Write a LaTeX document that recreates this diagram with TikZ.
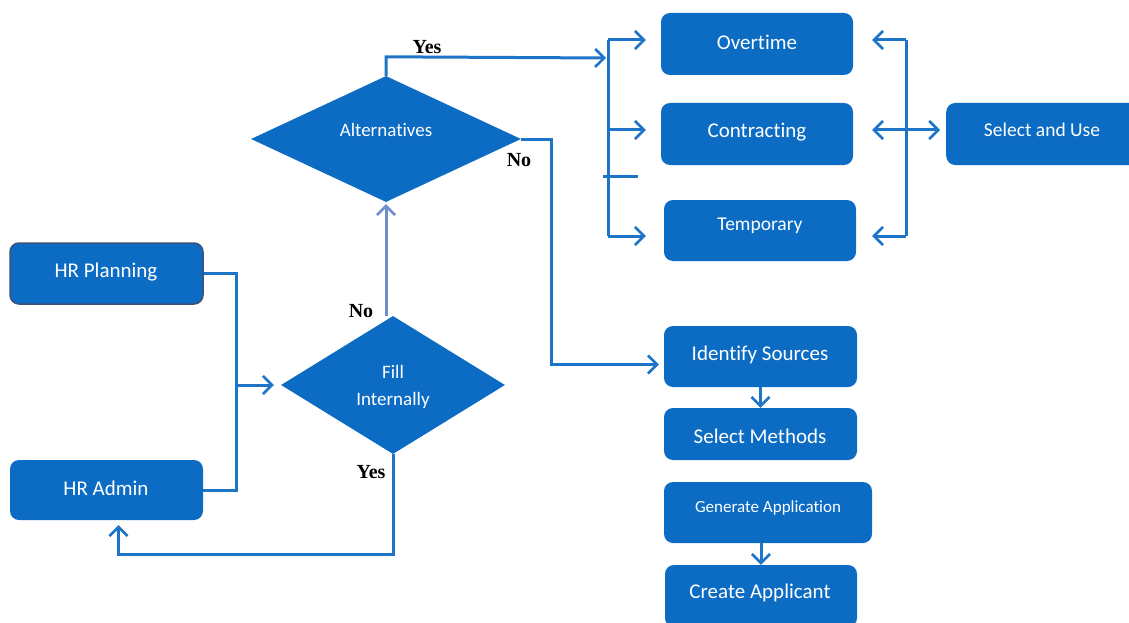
\documentclass[tikz,border=0pt]{standalone}
\usepackage{fontspec}
\setmainfont{Carlito}[Ligatures=NoCommon]
\newfontfamily\lblfont{Liberation Serif}
\usetikzlibrary{arrows.meta,shapes.geometric}
\definecolor{boxblue}{RGB}{12,108,196}
\definecolor{lineblue}{RGB}{30,116,198}
\definecolor{paleline}{RGB}{110,145,205}
\definecolor{edgegray}{RGB}{60,80,120}
\tikzset{
  box/.style={rectangle, rounded corners=9pt, fill=boxblue, inner sep=0pt},
  btext/.style={text=white, font=\fontsize{21}{22}\selectfont},
  dia/.style={diamond, fill=boxblue, inner sep=0pt},
  ditext/.style={text=white, font=\fontsize{19}{27}\selectfont, align=center},
  conn/.style={draw=lineblue, line width=3pt},
  arr/.style={conn, -{Straight Barb[length=9pt,width=18pt,line width=2.6pt]}},
  darr/.style={conn, {Straight Barb[length=9pt,width=18pt,line width=2.6pt]}-{Straight Barb[length=9pt,width=18pt,line width=2.6pt]}},
  yn/.style={font=\lblfont\bfseries\fontsize{20}{20}\selectfont, text=black}
}
\begin{document}
\begin{tikzpicture}[x=1pt,y=-1pt]
\useasboundingbox (0,0) rectangle (1129,623);
% boxes
\node[box, minimum width=192pt, minimum height=62pt] (ot) at (757,44) {};
\node[btext] (ott) at (757,42) {Overtime};
\node[box, minimum width=192pt, minimum height=62pt] (ct) at (757,134) {};
\node[btext] (ctt) at (757,132) {Contracting};
\node[box, minimum width=192pt, minimum height=61pt] (tp) at (760,230.5) {};
\node[btext, font=\fontsize{19.5}{22}\selectfont] (tpt) at (760,226) {Temporary};
\node[box, minimum width=200pt, minimum height=62pt, anchor=west] (su) at (946,134) {};
\node[btext, font=\fontsize{19.5}{22}\selectfont] (sut) at (1042,130) {Select and Use};
\node[box, minimum width=193pt, minimum height=61pt, draw=edgegray, line width=1.5pt] (hrp) at (106.5,273.5) {};
\node[btext] (hrpt) at (106,272) {HR Planning};
\node[box, minimum width=193pt, minimum height=60pt] (hra) at (106.5,490) {};
\node[btext] (hrat) at (106,488) {HR Admin};
\node[box, minimum width=193pt, minimum height=61pt] (ids) at (760.5,356.5) {};
\node[btext] (idst) at (760,355) {Identify Sources};
\node[box, minimum width=193pt, minimum height=52pt] (sm) at (760.5,434) {};
\node[btext] (smt) at (760,436) {Select Methods};
\node[box, minimum width=208pt, minimum height=61pt] (ga) at (768,512.5) {};
\node[btext, font=\fontsize{17}{20}\selectfont] (gat) at (768,508) {Generate Application};
\node[box, minimum width=192pt, minimum height=62pt] (ca) at (761,596) {};
\node[btext] (cat) at (760,593) {Create Applicant};
% diamonds
\node[dia, minimum width=270pt, minimum height=126pt] (alt) at (386,139) {};
\node[ditext] (altt) at (386,130) {Alternatives};
\node[dia, minimum width=224pt, minimum height=138pt] (fill) at (393,385) {};
\node[ditext] (fillt) at (393,387) {Fill\\Internally};
% junction coordinates
\coordinate (j) at (236,385);
\coordinate (yesend) at (606,58);
\coordinate (lbt) at (608,40);
\coordinate (lbm) at (608,130);
\coordinate (lbb) at (608,236);
\coordinate (stubA) at (603,176);
\coordinate (stubB) at (638,176);
\coordinate (rbt) at (906,40);
\coordinate (rbm) at (906,130);
\coordinate (rbb) at (906,236);
% connectors
\draw[conn] (hrp.east) -| (j) |- (hra.east);
\draw[arr, shorten >=7pt] (j) -- (fill.west);
\draw[arr, draw=paleline, shorten >=2pt] (alt.south |- fill.north) -- (alt.south);
\draw[arr, shorten >=5pt] (fill.south) -- ++(0,100) -| ([xshift=12pt]hra.south);
\draw[arr] (alt.north) -- ++(0,-19) -- (yesend);
\draw[conn] (lbt) -- (lbb);
\draw[arr, shorten >=15pt] (lbt) -- (lbt -| ot.west);
\draw[arr, shorten >=15pt] (lbm) -- (lbm -| ct.west);
\draw[arr, shorten >=18pt] (lbb) -- (lbb -| tp.west);
\draw[conn] (stubA) -- (stubB);
\draw[conn] (rbt) -- (rbb);
\draw[arr, shorten >=19pt] (rbt) -- (rbt -| ot.east);
\draw[arr, shorten >=16pt] (rbb) -- (rbb -| tp.east);
\draw[darr, shorten <=19pt, shorten >=6pt] (ct.east |- rbm) -- (su.west |- rbm);
\draw[arr, shorten >=5pt] (alt.east) -- ++(30,0) |- ([yshift=-8pt]ids.west);
\draw[arr] (ids.south) -- (sm.north);
\draw[arr] (ca.north |- ga.south) -- (ca.north);
% labels
\node[yn] (l1) at (427,47) {Yes};
\node[yn] (l2) at (519,160) {No};
\node[yn] (l3) at (361,311) {No};
\node[yn] (l4) at (371,472) {Yes};
\end{tikzpicture}
\end{document}
